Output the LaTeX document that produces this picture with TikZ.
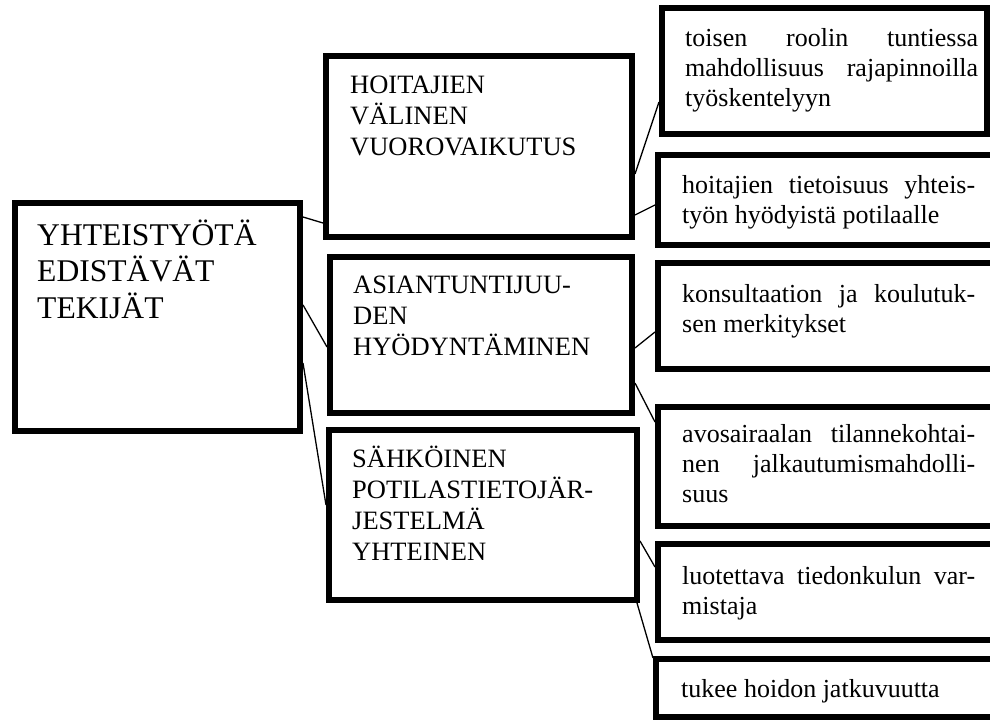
\documentclass[tikz,border=0pt]{standalone}
\usepackage{fontspec}
\setmainfont{Liberation Serif}
\usetikzlibrary{calc}

% one justified line of a right-hand box
\newcommand{\jline}[1]{\makebox[293pt][s]{#1}}
% top-aligned text blocks for the three box sizes
\newcommand{\maintext}[1]{\parbox[t]{265pt}{\raggedright\fontsize{31.6}{36.5}\selectfont #1}}
\newcommand{\midtext}[1]{\parbox[t]{280pt}{\raggedright\fontsize{26.5}{31}\selectfont #1}}
\newcommand{\sidetext}[1]{\parbox[t]{300pt}{\raggedright\fontsize{26}{30}\selectfont #1}}

\tikzset{
  frame/.style={draw, line width=6pt, inner sep=0pt, anchor=north west},
  link/.style={draw, line width=1.3pt},
  txt/.style={anchor=base west, inner sep=0pt},
}

\begin{document}
\begin{tikzpicture}[x=1pt,y=-1pt]
\useasboundingbox (0,0) rectangle (990,720);

% boxes
\node[frame, minimum width=285pt, minimum height=228pt] (root) at (12,200) {};
\node[frame, minimum width=306pt, minimum height=181pt] (hoit) at (323,53) {};
\node[frame, minimum width=302pt, minimum height=156pt] (asian) at (327,254) {};
\node[frame, minimum width=308pt, minimum height=170pt] (sahk) at (326,427) {};
\node[frame, minimum width=325pt, minimum height=126pt] (r1) at (659,5) {};
\node[frame, minimum width=339pt, minimum height=90pt] (r2) at (655,152) {};
\node[frame, minimum width=339pt, minimum height=106pt] (r3) at (655,260) {};
\node[frame, minimum width=339pt, minimum height=119pt] (r4) at (655,404) {};
\node[frame, minimum width=339pt, minimum height=96pt] (r5) at (655,541) {};
\node[frame, minimum width=341pt, minimum height=58pt] (r6) at (653,656) {};

% texts
\node[txt] (roottxt) at ([xshift=25pt,yshift=-45pt]root.north west)
  {\maintext{YHTEISTYÖTÄ\\EDISTÄVÄT\\TEKIJÄT}};
\node[txt] (hoittxt) at ([xshift=27pt,yshift=-40pt]hoit.north west)
  {\midtext{HOITAJIEN\\VÄLINEN\\VUOROVAIKUTUS}};
\node[txt] (asiantxt) at ([xshift=26pt,yshift=-39pt]asian.north west)
  {\midtext{ASIANTUNTIJUU-\\DEN\\HYÖDYNTÄMINEN}};
\node[txt] (sahktxt) at ([xshift=26pt,yshift=-40pt]sahk.north west)
  {\midtext{SÄHKÖINEN\\POTILASTIETOJÄR-\\JESTELMÄ\\YHTEINEN}};

\node[txt] (r1txt) at ([xshift=26pt,yshift=-41pt]r1.north west)
  {\sidetext{\jline{toisen roolin tuntiessa}\\\jline{mahdollisuus rajapinnoilla}\\työskentelyyn}};
\node[txt] (r2txt) at ([xshift=27pt,yshift=-41pt]r2.north west)
  {\sidetext{\jline{hoitajien tietoisuus yhteis-}\\työn hyödyistä potilaalle}};
\node[txt] (r3txt) at ([xshift=27pt,yshift=-42pt]r3.north west)
  {\sidetext{\jline{konsultaation ja koulutuk-}\\sen merkitykset}};
\node[txt] (r4txt) at ([xshift=27pt,yshift=-38pt]r4.north west)
  {\sidetext{\jline{avosairaalan tilannekohtai-}\\\jline{nen jalkautumismahdolli-}\\suus}};
\node[txt] (r5txt) at ([xshift=27pt,yshift=-43pt]r5.north west)
  {\sidetext{\jline{luotettava tiedonkulun var-}\\mistaja}};
\node[txt] (r6txt) at ([xshift=28pt,yshift=-41pt]r6.north west)
  {\sidetext{tukee hoidon jatkuvuutta}};

% connectors
\draw[link] (root.east |- 0,217) -- (hoit.west |- 0,223);
\draw[link] (root.east |- 0,305) -- (asian.west |- 0,347);
\draw[link] (root.east |- 0,363) -- (sahk.west |- 0,505);
\draw[link] (hoit.east |- 0,174) -- (r1.west |- 0,102);
\draw[link] (hoit.east |- 0,215) -- (r2.west |- 0,205);
\draw[link] (asian.east |- 0,348) -- (r3.west |- 0,332);
\draw[link] (asian.east |- 0,383) -- (r4.west |- 0,422);
\draw[link] (sahk.east |- 0,541) -- (r5.west |- 0,567);
\draw[link] ([xshift=-3pt]sahk.south east) -- (r6.west |- 0,658);
\end{tikzpicture}
\end{document}
